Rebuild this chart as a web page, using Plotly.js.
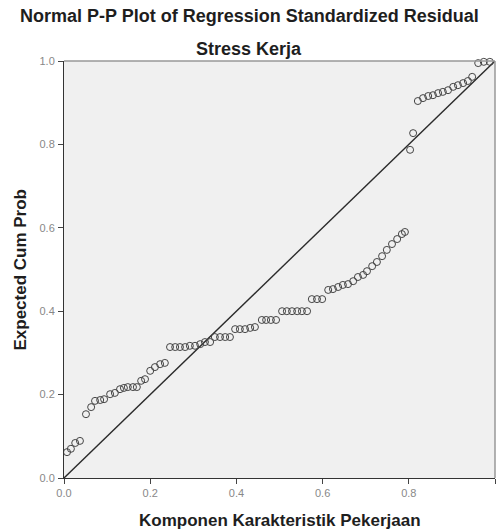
<!DOCTYPE html>
<html>
<head>
<meta charset="utf-8">
<script src="https://cdn.plot.ly/plotly-3.0.1.min.js"></script>
<style>html,body{margin:0;padding:0;background:#fff;}#chart{width:499px;height:531px;}</style>
</head>
<body>
<div id="chart"></div>
<script>
// Observed cumulative probability (x) and expected cumulative probability (y)
var observedCumProb = [
  0.007, 0.016, 0.026, 0.037, 0.051, 0.063, 0.072, 0.084, 0.093, 0.107,
  0.118, 0.130, 0.139, 0.148, 0.160, 0.169, 0.179, 0.188, 0.200, 0.211,
  0.223, 0.234, 0.246, 0.258, 0.269, 0.281, 0.292, 0.304, 0.316, 0.327,
  0.339, 0.350, 0.362, 0.374, 0.385, 0.397, 0.408, 0.420, 0.432, 0.443,
  0.459, 0.469, 0.480, 0.492, 0.506, 0.517, 0.529, 0.541, 0.552, 0.564,
  0.575, 0.587, 0.599, 0.613, 0.624, 0.636, 0.647, 0.659, 0.671, 0.682,
  0.694, 0.703, 0.715, 0.726, 0.738, 0.749, 0.761, 0.773, 0.784, 0.791,
  0.803, 0.810, 0.821, 0.833, 0.845, 0.856, 0.868, 0.879, 0.891, 0.903,
  0.914, 0.926, 0.937, 0.947, 0.961, 0.974, 0.988
];
var expectedCumProb = [
  0.062, 0.070, 0.084, 0.089, 0.153, 0.170, 0.185, 0.187, 0.189, 0.201,
  0.204, 0.213, 0.216, 0.218, 0.218, 0.218, 0.233, 0.237, 0.257, 0.266,
  0.273, 0.276, 0.314, 0.314, 0.314, 0.314, 0.317, 0.317, 0.321, 0.326,
  0.326, 0.338, 0.338, 0.338, 0.338, 0.357, 0.357, 0.357, 0.360, 0.362,
  0.379, 0.379, 0.379, 0.379, 0.400, 0.400, 0.400, 0.400, 0.400, 0.400,
  0.429, 0.429, 0.429, 0.451, 0.453, 0.458, 0.463, 0.465, 0.472, 0.482,
  0.487, 0.496, 0.508, 0.518, 0.532, 0.547, 0.561, 0.573, 0.585, 0.590,
  0.787, 0.827, 0.904, 0.911, 0.916, 0.918, 0.923, 0.926, 0.930, 0.938,
  0.942, 0.947, 0.952, 0.962, 0.995, 0.998, 0.998
];
var refLineX = [0, 1];
var refLineY = [0, 1];
var tickVals = [0, 0.2, 0.4, 0.6, 0.8, 1.0];
var tickText = ["0.0", "0.2", "0.4", "0.6", "0.8", "1.0"];

var titleText = "Normal P-P Plot of Regression Standardized Residual";
var subtitleText = "Stress Kerja";
var xTitleText = "Komponen Karakteristik Pekerjaan";
var yTitleText = "Expected Cum Prob";

var font = "Liberation Sans, Arial, sans-serif";

var traces = [
  {
    x: refLineX, y: refLineY, type: "scatter", mode: "lines",
    line: {color: "#2b2b2b", width: 1.4}, hoverinfo: "skip", showlegend: false
  },
  {
    x: observedCumProb, y: expectedCumProb, type: "scatter", mode: "markers",
    marker: {symbol: "circle-open", size: 7, color: "#444444", line: {width: 1, color: "#444444"}},
    showlegend: false, cliponaxis: false
  }
];

var axisCommon = {
  range: [0, 1], tickvals: tickVals, ticktext: tickText,
  ticks: "outside", ticklen: 5, tickwidth: 1, tickcolor: "#444",
  showline: true, linecolor: "#333", linewidth: 1,
  showgrid: false, zeroline: false, fixedrange: true,
  tickfont: {family: font, size: 11, color: "#888"}
};

var layout = {
  width: 499, height: 531,
  margin: {l: 64, r: 4, t: 61, b: 53},
  paper_bgcolor: "#ffffff",
  plot_bgcolor: "#f0f0f0",
  xaxis: Object.assign({}, axisCommon, {ticklabelstandoff: 0}),
  yaxis: Object.assign({}, axisCommon, {ticklabelstandoff: 1}),
  shapes: [
    {type: "line", xref: "paper", yref: "paper", x0: 0, x1: 1, y0: 1, y1: 1, line: {color: "#999", width: 1.5}},
    {type: "line", xref: "paper", yref: "paper", x0: 1, x1: 1, y0: 0, y1: 1, line: {color: "#999", width: 1.5}}
  ],
  annotations: [
    {text: "<b>" + titleText + "</b>", xref: "paper", yref: "paper", x: 0.43, y: 1.108,
     xanchor: "center", yanchor: "middle", showarrow: false, font: {family: font, size: 18, color: "#1e1e1e"}},
    {text: "<b>" + subtitleText + "</b>", xref: "paper", yref: "paper", x: 0.43, y: 1.029,
     xanchor: "center", yanchor: "middle", showarrow: false, font: {family: font, size: 18, color: "#1e1e1e"}},
    {text: "<b>" + xTitleText + "</b>", xref: "paper", yref: "paper", x: 0.5, y: -0.101,
     xanchor: "center", yanchor: "middle", showarrow: false, font: {family: font, size: 17, color: "#1e1e1e"}},
    {text: "<b>" + yTitleText + "</b>", xref: "paper", yref: "paper", x: -0.102, y: 0.5,
     xanchor: "center", yanchor: "middle", textangle: -90, showarrow: false, font: {family: font, size: 17, color: "#1e1e1e"}}
  ]
};

Plotly.newPlot("chart", traces, layout, {displayModeBar: false, staticPlot: true});
</script>
</body>
</html>
